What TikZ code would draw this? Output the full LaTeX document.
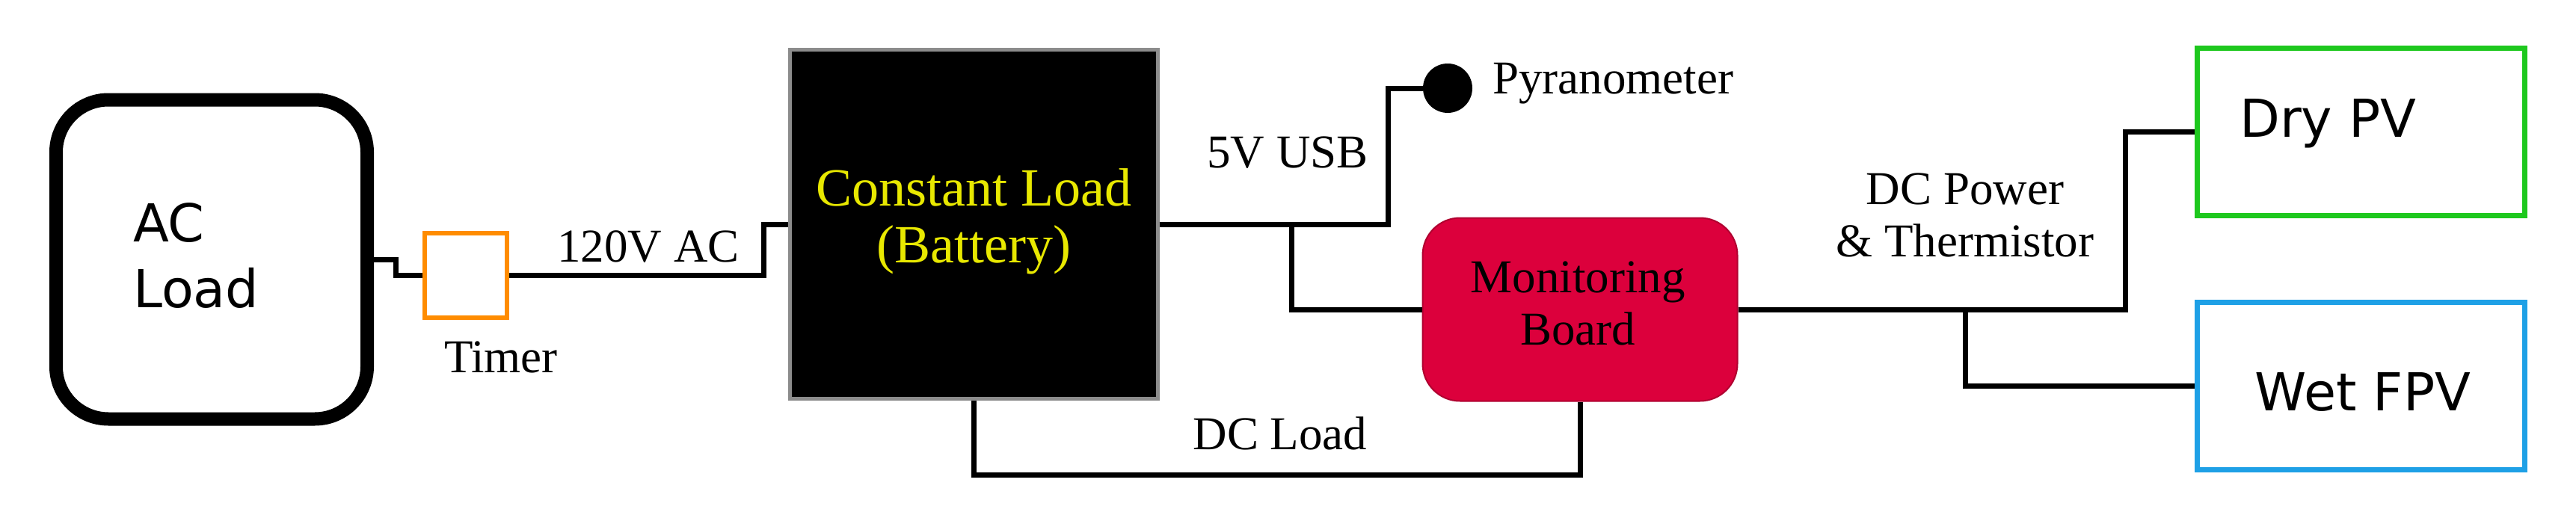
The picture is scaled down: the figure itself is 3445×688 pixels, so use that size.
\documentclass[tikz,border=0pt]{standalone}
\usepackage{fontspec}
\setmainfont{Liberation Serif}
\newfontfamily\dvs{DejaVu Sans}
\definecolor{crim}{HTML}{DC003C}
\definecolor{yel}{HTML}{E8E800}
\definecolor{grn}{HTML}{1EC81E}
\definecolor{blu}{HTML}{1EA0E6}
\definecolor{org}{HTML}{FF8C00}
\begin{document}
\begin{tikzpicture}[x=1pt,y=-1pt,
  wire/.style={line width=7pt},
  serif/.style={font=\fontsize{63}{70}\selectfont,inner sep=0pt,align=center},
  sans/.style={font=\dvs\fontsize{70}{88}\selectfont,inner sep=0pt,align=left}]
\useasboundingbox (0,0) rectangle (3445,688);
\node[draw,line width=18pt,rounded corners=70pt,minimum width=416pt,minimum height=427pt,inner sep=0pt] (ac) at (283,347) {};
\node[sans,anchor=west] at (178,342) {AC\\Load};
\node[draw=org,line width=6pt,minimum width=110pt,minimum height=113pt,inner sep=0pt] (timer) at (623,368) {};
\node[draw=black!45,fill=black,line width=5pt,minimum width=492pt,minimum height=467pt,inner sep=0pt] (bat) at (1302,300) {};
\node[serif,text=yel,font=\fontsize{72}{76}\selectfont] at (1302,296) {Constant Load\\(Battery)};
\node[draw=crim!80!black,fill=crim,line width=2pt,rounded corners=50pt,minimum width=421pt,minimum height=245pt,inner sep=0pt] (mon) at (2113,414) {};
\node[serif] at (2110,406) {Monitoring\\Board};
\node[draw=grn,line width=7pt,minimum width=438pt,minimum height=224pt,inner sep=0pt] (dry) at (3157,176) {};
\node[draw=blu,line width=7pt,minimum width=438pt,minimum height=224pt,inner sep=0pt] (wet) at (3157,516) {};
\node[sans,anchor=west] at (2995,165) {Dry PV};
\node[sans] at (3160,524) {Wet FPV};
\node[circle,fill=black,minimum size=66pt,inner sep=0pt] (pyr) at (1936,118) {};
\node[serif,anchor=west] at (1996,112) {Pyranometer};
\node[serif] at (670,478) {Timer};
\node[serif] at (867,330) {120V AC};
\node[serif] at (1722,204) {5V USB};
\node[serif] at (1712,580) {DC Load};
\node[serif] at (2628,288) {DC Power\\\& Thermistor};
\draw[wire] (ac.east) -- ++(29,0) |- (timer.west);
\draw[wire] (timer.east) -- ++(340,0) |- (bat.west);
\draw[wire] (bat.east) -- ++(306,0) coordinate (c1) |- (pyr.west);
\draw[wire] (1727,300) |- (mon.west);
\draw[wire] (bat.south) -- ++(0,99) -| (mon.south);
\draw[wire] (mon.east) -- ++(518,0) |- (dry.west);
\draw[wire] (2628,414) |- (wet.west);
\end{tikzpicture}
\end{document}
